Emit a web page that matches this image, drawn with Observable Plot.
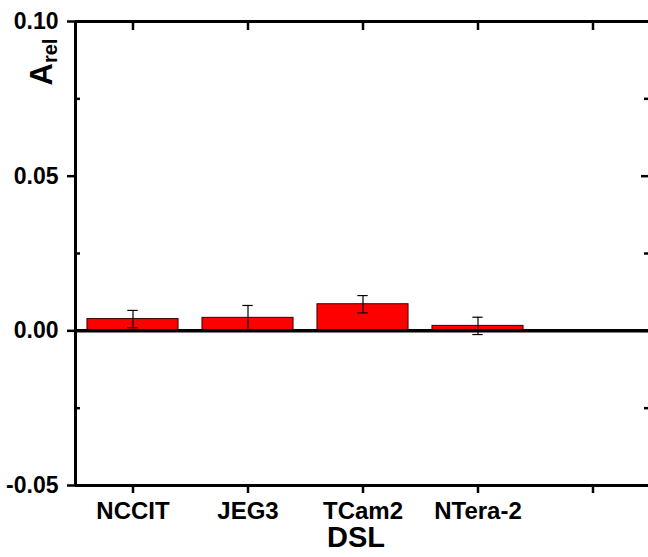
<!DOCTYPE html>
<html>
<head>
<meta charset="utf-8">
<script src="https://cdn.jsdelivr.net/npm/d3@7"></script>
<script src="https://cdn.jsdelivr.net/npm/@observablehq/plot@0.6"></script>
<style>
  html, body { margin: 0; padding: 0; background: #fff; overflow: hidden; }
  #chart { width: 648px; height: 557px; }
</style>
</head>
<body>
<div id="chart"></div>
<script>
const categories = ["NCCIT", "JEG3", "TCam2", "NTera-2", ""];
const values = [0.0038, 0.0042, 0.0086, 0.0016];
const errors = [0.0028, 0.0040, 0.0028, 0.0028];
const yMajorTicks = [-0.05, 0, 0.05, 0.10];
const yMinorTicks = [-0.025, 0.025, 0.075];
const xLabel = "DSL";
const yLabelMain = "A";
const yLabelSub = "rel";

const data = values.map((v, k) => ({pos: k + 1, name: categories[k], v, e: errors[k]}));
const positions = categories.map((c, k) => k + 1);
const halfBar = 0.396;
const halfCap = 0.045;
const font = "'Liberation Sans', Arial, sans-serif";

const chart = Plot.plot({
  width: 648,
  height: 557,
  marginLeft: 75,
  marginRight: 0,
  marginTop: 21,
  marginBottom: 72,
  style: {fontFamily: font, fontWeight: "bold", background: "#fff", overflow: "visible"},
  x: {domain: [0.5, 5.5], range: [75, 650], axis: null},
  y: {domain: [-0.05, 0.10], axis: null},
  marks: [
    Plot.rectY(data, {
      x1: d => d.pos - halfBar, x2: d => d.pos + halfBar,
      y1: 0, y2: "v",
      fill: "#ff0000", stroke: "#3a0000", strokeWidth: 1
    }),
    Plot.ruleX(data, {x: "pos", y1: d => d.v - d.e, y2: d => d.v + d.e, stroke: "#000", strokeWidth: 1.2}),
    Plot.ruleY(data, {y: d => d.v + d.e, x1: d => d.pos - halfCap, x2: d => d.pos + halfCap, stroke: "#000", strokeWidth: 1.2}),
    Plot.ruleY(data, {y: d => d.v - d.e, x1: d => d.pos - halfCap, x2: d => d.pos + halfCap, stroke: "#000", strokeWidth: 1.2}),
    Plot.ruleY([0], {stroke: "#000", strokeWidth: 3.5}),
    // frame
    Plot.ruleX([0.5, 5.5], {y1: -0.05, y2: 0.10, stroke: "#000", strokeWidth: 3}),
    Plot.ruleY([-0.05, 0.10], {x1: 0.5, x2: 5.5, stroke: "#000", strokeWidth: 3}),
    // axes
    Plot.axisX({
      anchor: "bottom", ticks: positions, tickFormat: p => categories[p - 1],
      tickSize: 8, tickPadding: 8, fontSize: 24, fontWeight: "bold", strokeWidth: 2.5, label: null
    }),
    Plot.axisX({
      anchor: "top", ticks: positions, tickFormat: () => "",
      tickSize: -8, strokeWidth: 2.5, label: null
    }),
    Plot.axisY({
      anchor: "left", ticks: yMajorTicks, tickFormat: d => d.toFixed(2),
      tickSize: 8, tickPadding: 9, fontSize: 23, fontWeight: "bold", strokeWidth: 2.5, label: null
    }),
    Plot.axisY({
      anchor: "left", ticks: yMinorTicks, tickFormat: () => "",
      tickSize: -5, strokeWidth: 2.5, label: null
    }),
    Plot.axisY({
      anchor: "right", ticks: yMajorTicks, tickFormat: () => "",
      tickSize: -8, strokeWidth: 2.5, label: null
    }),
    Plot.axisY({
      anchor: "right", ticks: yMinorTicks, tickFormat: () => "",
      tickSize: -5, strokeWidth: 2.5, label: null
    })
  ]
});

const svg = d3.select(chart);
svg.append("text")
  .attr("x", 356).attr("y", 547)
  .attr("text-anchor", "middle")
  .attr("font-family", font).attr("font-weight", "bold").attr("font-size", 29)
  .attr("fill", "#000")
  .text(xLabel);

const yl = svg.append("text")
  .attr("transform", "translate(52,62) rotate(-90)")
  .attr("text-anchor", "middle")
  .attr("font-family", font).attr("font-weight", "bold").attr("font-size", 31)
  .attr("fill", "#000");
yl.append("tspan").text(yLabelMain);
yl.append("tspan").attr("font-size", 20).attr("dy", 5).text(yLabelSub);

document.getElementById("chart").appendChild(chart);
</script>
</body>
</html>
